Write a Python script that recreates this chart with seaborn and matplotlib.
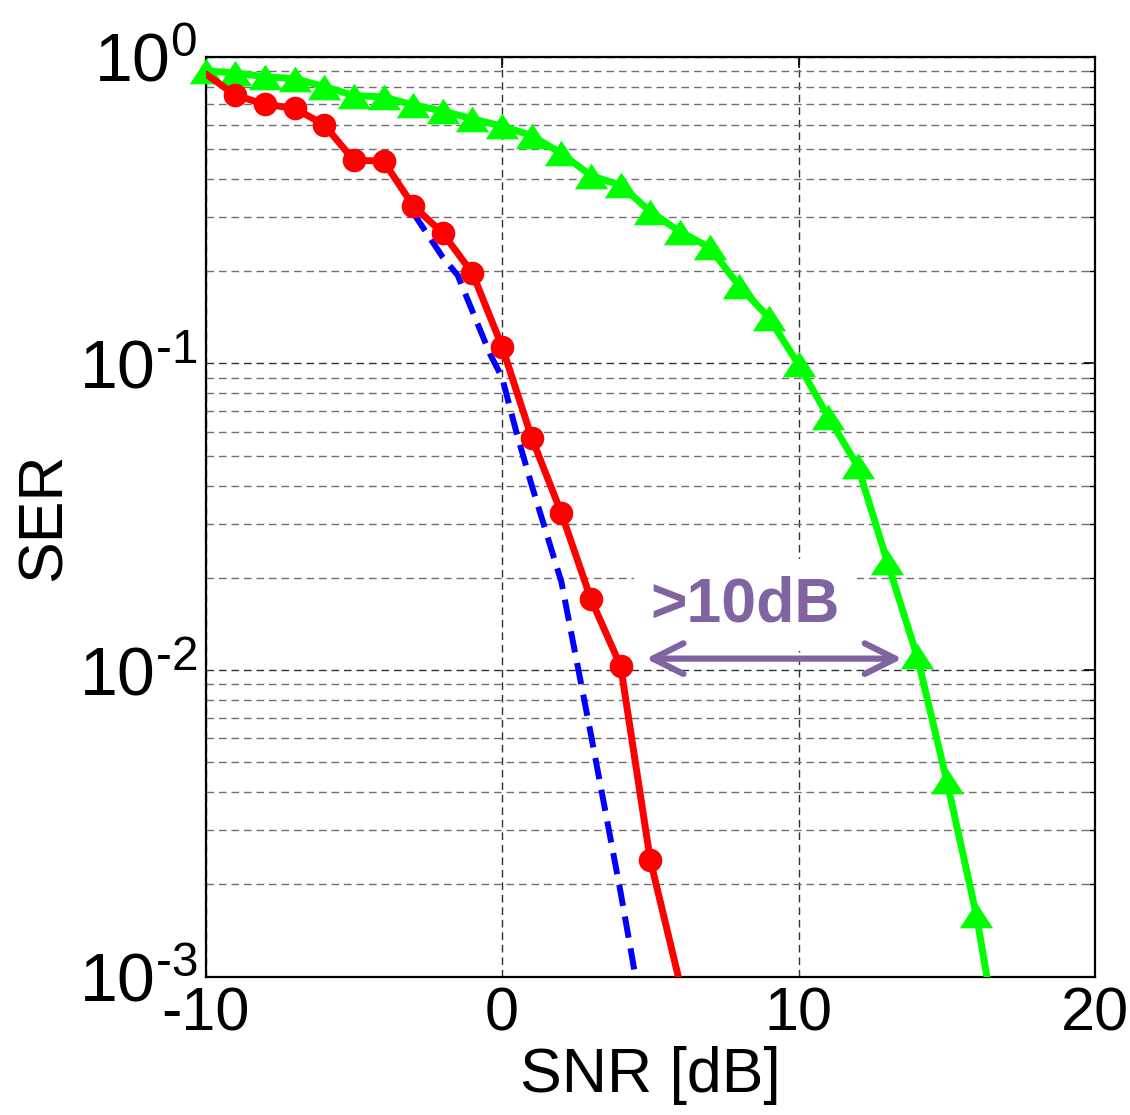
import matplotlib
matplotlib.use("Agg")
import matplotlib.pyplot as plt
import matplotlib.ticker as mticker
import seaborn as sns
import pandas as pd
import numpy as np

# SER vs SNR curves
red_snr = [-10, -9, -8, -7, -6, -5, -4, -3, -2, -1, 0, 1, 2, 3, 4, 5, 6]
red_ser = [0.88, 0.75, 0.70, 0.68, 0.60, 0.46, 0.457, 0.327, 0.266, 0.197,
           0.1135, 0.0572, 0.0325, 0.0170, 0.0103, 0.0024, 0.00095]

green_snr = list(range(-10, 18))
green_ser = [0.90, 0.887, 0.861, 0.849, 0.80, 0.748, 0.740, 0.697, 0.666, 0.628,
             0.594, 0.554, 0.484, 0.41, 0.381, 0.313, 0.269, 0.239, 0.179, 0.141,
             0.0993, 0.067, 0.0462, 0.0225, 0.0111, 0.00436, 0.00159, 0.00043]

blue_snr = [-3, -2, -1.5, -0.4, 0, 0.5, 1, 2, 3, 4, 4.5]
blue_ser = [0.31, 0.222, 0.194, 0.107, 0.090, 0.0588, 0.040, 0.0194, 0.00614,
            0.00188, 0.00100]

# annotation
gap_label = ">10dB"
gap_from = 4.85
gap_to = 13.5
gap_level = 0.0109
label_pos = (8.2, 0.0163)

x_ticks = [-10, 0, 10, 20]
y_lim = (1e-3, 1)

RED = "#FF0000"
GREEN = "#00FF00"
BLUE = "#0000FF"
PURPLE = "#8064A2"

sns.set_style("white")
plt.rcParams['font.family'] = ['Liberation Sans', 'DejaVu Sans']
plt.rcParams['axes.unicode_minus'] = False
plt.rcParams['mathtext.fontset'] = 'custom'
plt.rcParams['mathtext.rm'] = 'Liberation Sans'
plt.rcParams['text.color'] = 'black'
plt.rcParams['axes.labelcolor'] = 'black'


def pow10_label(v, pos):
    e = int(round(np.log10(v)))
    if e < 0:
        return r'$\mathdefault{10^{\text{-}%d}}$' % (-e)
    return r'$\mathdefault{10^{%d}}$' % e


df_red = pd.DataFrame({'snr': red_snr, 'ser': red_ser})
df_green = pd.DataFrame({'snr': green_snr, 'ser': green_ser})
df_blue = pd.DataFrame({'snr': blue_snr, 'ser': blue_ser})

fig = plt.figure(figsize=(11.3, 11.15), dpi=100)
ax = fig.add_axes([0.182, 0.124, 0.787, 0.825])

# green curve: line clipped, markers drawn over the frame
sns.lineplot(data=df_green, x='snr', y='ser', ax=ax, color=GREEN, lw=5,
             sort=False, estimator=None, zorder=3)
g_in = df_green[(df_green.ser >= y_lim[0])]
tri = [(-1.3, -1), (1.3, -1), (0, 1)]
sns.lineplot(data=g_in, x='snr', y='ser', ax=ax, color=GREEN, linestyle='',
             marker=tri, markersize=24, markeredgewidth=0, sort=False,
             estimator=None, clip_on=False, zorder=3)

# blue dashed bound
sns.lineplot(data=df_blue, x='snr', y='ser', ax=ax, color=BLUE, lw=4.3,
             linestyle=(0, (3.6, 1.8)), sort=False, estimator=None, zorder=4)

# red curve
sns.lineplot(data=df_red, x='snr', y='ser', ax=ax, color=RED, lw=5,
             sort=False, estimator=None, zorder=5)
r_in = df_red[(df_red.ser >= y_lim[0]) & (df_red.snr > x_ticks[0])]
sns.lineplot(data=r_in, x='snr', y='ser', ax=ax, color=RED, linestyle='',
             marker='o', markersize=17, markeredgewidth=0, sort=False,
             estimator=None, clip_on=False, zorder=5)

ax.set_yscale('log')
ax.set_xlim(x_ticks[0], x_ticks[-1])
ax.set_ylim(*y_lim)
ax.set_xticks(x_ticks)
ax.xaxis.set_minor_locator(mticker.NullLocator())
ax.yaxis.set_major_locator(mticker.LogLocator(base=10, numticks=10))
ax.yaxis.set_major_formatter(mticker.FuncFormatter(pow10_label))
ax.yaxis.set_minor_locator(mticker.LogLocator(base=10, subs=np.arange(2, 10), numticks=20))
ax.yaxis.set_minor_formatter(mticker.NullFormatter())

ax.grid(which='major', axis='both', color='#303030', linestyle=(0, (5.5, 3.5)), lw=1.0)
ax.grid(which='minor', axis='y', color='#707070', linestyle=(0, (5.5, 3.5)), lw=1.0)
ax.set_axisbelow(True)

for s in ax.spines.values():
    s.set_color('black')
    s.set_linewidth(1.6)
ax.tick_params(which='both', direction='in', top=True, right=True, color='black',
               labelcolor='black')
ax.tick_params(which='major', length=8, width=1.2, labelsize=44, pad=7)
ax.tick_params(axis='y', which='major', labelsize=49, pad=6)
ax.tick_params(which='minor', length=4, width=1.0)

ax.set_xlabel('SNR [dB]', fontsize=45)
ax.set_ylabel('SER', fontsize=45)
ax.xaxis.set_label_coords(0.5, -0.075)
ax.yaxis.set_label_coords(-0.148, 0.5)

ax.annotate('', xy=(gap_to, gap_level), xytext=(gap_from, gap_level),
            arrowprops=dict(arrowstyle='<->,head_length=1.1,head_width=0.55',
                            color=PURPLE, lw=4.5, mutation_scale=20,
                            shrinkA=0, shrinkB=0, capstyle='round',
                            joinstyle='round'), zorder=6)
ax.text(label_pos[0], label_pos[1], gap_label, ha='center', va='center',
        fontsize=45, fontweight='bold', color=PURPLE, zorder=2,
        bbox=dict(facecolor='white', edgecolor='none', pad=12))

fig.savefig('out.png', dpi=100)
